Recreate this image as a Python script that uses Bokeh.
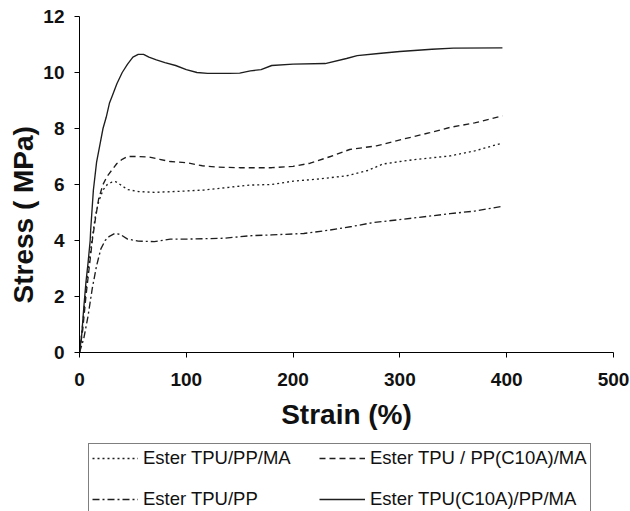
from bokeh.plotting import figure
from bokeh.models import Range1d, Legend, LegendItem, Title, FixedTicker
from bokeh.layouts import column
from bokeh.embed import file_html
from bokeh.resources import INLINE

# ---- data ----
solid_x = [0, 2, 4, 6, 8, 10, 10.5, 13, 16, 19, 22, 25, 28, 31, 35, 40, 45, 50, 55, 60, 65,
           72, 80, 90, 100, 110, 120, 140, 150, 160, 170, 180, 200, 230, 250, 260, 280, 300,
           330, 350, 396]
solid_y = [0, 0.6, 1.6, 2.5, 3.2, 4.0, 4.4, 5.8, 6.8, 7.4, 8.0, 8.4, 8.9, 9.2, 9.6, 10.0, 10.3,
           10.55, 10.65, 10.65, 10.55, 10.45, 10.35, 10.25, 10.1, 10.0, 9.97, 9.97, 9.98, 10.06,
           10.1, 10.25, 10.3, 10.32, 10.5, 10.6, 10.68, 10.75, 10.83, 10.87, 10.88]

dashed_x = [0, 3, 6, 9, 12, 15, 18, 22, 26, 30, 35, 40, 45, 55, 65, 75, 85, 100, 115, 130, 150,
            180, 200, 216, 235, 253, 278, 303, 328, 347, 370, 396]
dashed_y = [0, 0.8, 2.0, 3.0, 4.0, 4.8, 5.5, 6.0, 6.3, 6.5, 6.75, 6.9, 7.0, 7.0, 6.98, 6.9, 6.82,
            6.78, 6.67, 6.62, 6.6, 6.6, 6.65, 6.76, 7.0, 7.25, 7.38, 7.62, 7.85, 8.04, 8.2, 8.45]

dotted_x = [0, 3, 6, 9, 12, 15, 18, 22, 26, 30, 34, 38, 45, 55, 70, 90, 116, 140, 160, 180, 200,
            225, 250, 270, 284, 300, 316, 347, 370, 396]
dotted_y = [0, 1.0, 2.2, 3.2, 4.1, 4.9, 5.4, 5.8, 6.0, 6.08, 6.1, 6.0, 5.82, 5.75, 5.72, 5.75,
            5.8, 5.9, 5.98, 6.0, 6.12, 6.2, 6.31, 6.5, 6.73, 6.82, 6.9, 7.02, 7.2, 7.48]

dashdot_x = [0, 4, 8, 12, 16, 20, 24, 28, 33, 38, 45, 55, 70, 85, 100, 135, 160, 180, 210, 234,
             255, 275, 303, 330, 347, 370, 396]
dashdot_y = [0, 0.5, 1.3, 2.3, 3.1, 3.7, 4.0, 4.15, 4.25, 4.22, 4.05, 3.98, 3.96, 4.05, 4.05,
             4.08, 4.17, 4.2, 4.25, 4.37, 4.5, 4.64, 4.76, 4.88, 4.96, 5.05, 5.22]

series_labels = ["Ester TPU/PP/MA", "Ester TPU / PP(C10A)/MA", "Ester TPU/PP",
                 "Ester TPU(C10A)/PP/MA"]
x_ticks = [0, 100, 200, 300, 400, 500]
y_ticks = [0, 2, 4, 6, 8, 10, 12]
x_title = "Strain (%)"
y_title = "Stress ( MPa)"

FONT = "Liberation Sans"
INK = "#1e1e1e"
DASHES = ["2 3", "6 4", "7 3 2 3", "solid"]
series = [(dotted_x, dotted_y), (dashed_x, dashed_y), (dashdot_x, dashdot_y), (solid_x, solid_y)]

# ---------------- main chart ----------------
p = figure(width=630, height=438, output_backend="svg", toolbar_location=None,
           x_range=Range1d(0, 500), y_range=Range1d(0, 12),
           min_border_left=79, min_border_right=17, min_border_top=16, min_border_bottom=86)
p.outline_line_color = None
p.background_fill_color = "white"
p.border_fill_color = "white"
p.xgrid.visible = False
p.ygrid.visible = False

for ax in (p.xaxis[0], p.yaxis[0]):
    ax.axis_line_color = "black"
    ax.major_tick_line_color = "black"
    ax.minor_tick_line_color = None
    ax.major_tick_in = 0
    ax.major_tick_out = 5
    ax.major_label_text_font = FONT
    ax.major_label_text_font_style = "bold"
    ax.major_label_text_font_size = "19px"
    ax.major_label_text_color = "#111111"

p.xaxis[0].ticker = FixedTicker(ticks=x_ticks)
p.yaxis[0].ticker = FixedTicker(ticks=y_ticks)
p.xaxis[0].major_label_standoff = 15
p.yaxis[0].major_label_standoff = 10
p.xaxis[0].axis_label = x_title
p.xaxis[0].axis_label_text_font = FONT
p.xaxis[0].axis_label_text_font_style = "bold"
p.xaxis[0].axis_label_text_font_size = "28px"
p.xaxis[0].axis_label_text_color = "#111111"
p.xaxis[0].axis_label_standoff = 10

for (xs, ys), dash in zip(series, DASHES):
    p.line(xs, ys, line_color=INK, line_width=1.35, line_dash=dash)

ytitle = Title(text=y_title, align="left", offset=49, text_font=FONT,
               text_font_style="bold", text_font_size="28px", text_color="#111111",
               standoff=4)
p.add_layout(ytitle, "left")

# ---------------- legend strip (frame aligned with the chart above) ----------------
q = figure(width=630, height=73, output_backend="svg", toolbar_location=None,
           x_range=Range1d(0, 500), y_range=Range1d(-20, -10),
           x_axis_location=None, y_axis_location=None,
           min_border_left=0, min_border_right=0, min_border_top=0, min_border_bottom=0)
q.outline_line_color = None
q.xgrid.visible = False
q.ygrid.visible = False
items = []
for label, (xs, ys), dash in zip(series_labels, series, DASHES):
    r = q.line(xs, ys, line_color=INK, line_width=1.35, line_dash=dash)
    items.append(LegendItem(label=label, renderers=[r]))

legend = Legend(items=items, ncols=2, location=(9, -3), orientation="horizontal")
legend.label_text_font = FONT
legend.label_text_font_size = "18.5px"
legend.label_text_color = "#111111"
legend.glyph_width = 46
legend.glyph_height = 18
legend.label_height = 18
legend.label_width = 157
legend.label_standoff = 5
legend.spacing = 19
legend.padding = 3
legend.margin = 0
legend.border_line_color = "black"
legend.border_line_width = 1
legend.background_fill_alpha = 0
q.add_layout(legend)

open("out.html", "w").write(file_html(column(p, q, spacing=0), INLINE))
